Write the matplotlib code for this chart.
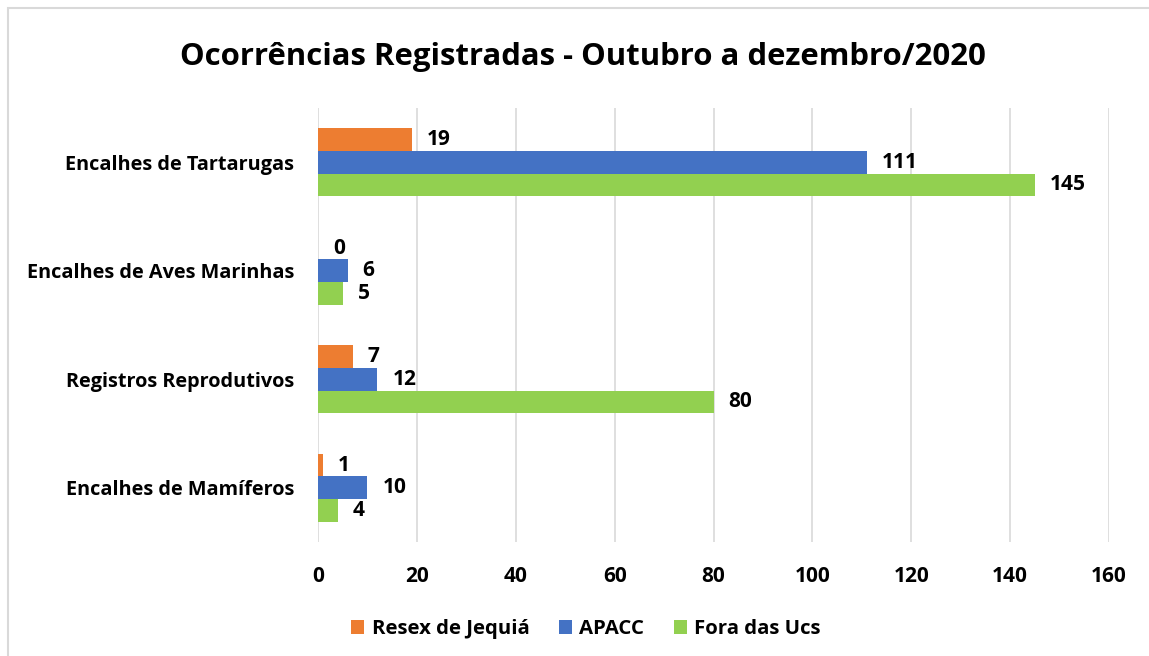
import matplotlib.pyplot as plt
from matplotlib.patches import Rectangle
import numpy as np

plt.rcParams['font.family'] = ['Open Sans', 'DejaVu Sans']
plt.rcParams['font.weight'] = 'bold'

categorias = ['Encalhes de Mamíferos', 'Registros Reprodutivos',
              'Encalhes de Aves Marinhas', 'Encalhes de Tartarugas']
resex = [1, 7, 0, 19]
apacc = [10, 12, 6, 111]
fora = [4, 80, 5, 145]
series = ['Resex de Jequiá', 'APACC', 'Fora das Ucs']
cores = ['#ED7D31', '#4472C4', '#92D050']

fig = plt.figure(figsize=(11.49, 6.56), dpi=100)
ax = fig.add_axes([0.2768, 0.1738, 0.6884, 0.6616])

y = np.arange(len(categorias))
h = 0.208
for vals, off, cor, nome in zip([resex, apacc, fora], [h, 0, -h], cores, series):
    barras = ax.barh(y + off, vals, height=h, color=cor, label=nome, zorder=3)
    for b, v in zip(barras, vals):
        ax.annotate(str(v), (b.get_width(), b.get_y() + b.get_height() / 2),
                    xytext=(15, 0), textcoords='offset pixels',
                    ha='left', va='center', fontsize=15, fontweight='bold')

ax.set_xlim(0, 160)
ax.set_ylim(-0.5, 3.5)
ax.set_xticks(range(0, 161, 20))
ax.set_yticks(y)
ax.set_yticklabels(categorias)
ax.tick_params(length=0, labelsize=15)
ax.tick_params(axis='y', labelsize=14.3, pad=17)
ax.tick_params(axis='x', pad=17.5)
for s in ax.spines.values():
    s.set_visible(False)
ax.grid(axis='x', color='#D9D9D9', linewidth=1.2, zorder=0)

fig.suptitle('Ocorrências Registradas - Outubro a dezembro/2020',
             x=0.507, y=0.936, fontsize=22.4, fontweight='bold')

fig.legend(loc='center', bbox_to_anchor=(0.51, 0.041), ncol=3, frameon=False,
           fontsize=14.7, handlelength=0.65, handleheight=0.65, columnspacing=1.45,
           handletextpad=0.35)

# frame of the chart area (only top/left edges fall inside the image)
fig.patches.append(Rectangle((8 / 1149, -10 / 656), 1160 / 1149, 658 / 656,
                             transform=fig.transFigure, fill=False,
                             edgecolor='#D9D9D9', linewidth=1.5))

fig.savefig('out.png', dpi=100)
